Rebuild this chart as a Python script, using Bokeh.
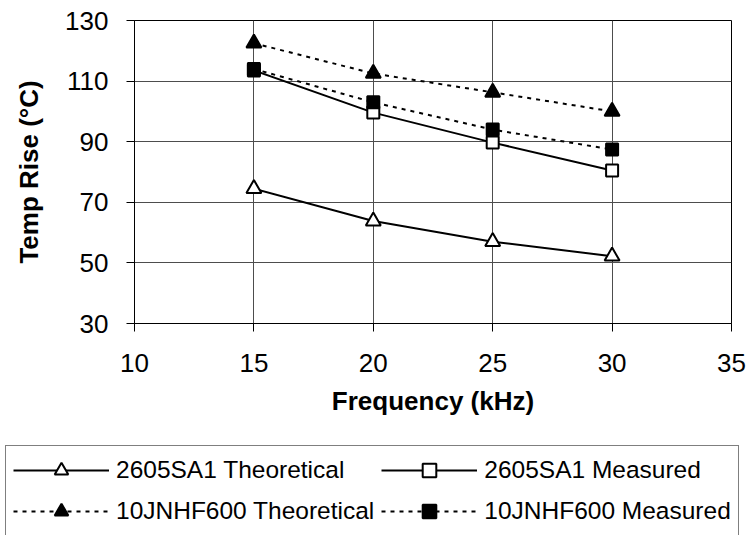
from bokeh.plotting import figure
from bokeh.models import Legend, LegendItem, FixedTicker, Range1d
from bokeh.embed import file_html
from bokeh.resources import INLINE

# ---- data ----
freq = [15, 20, 25, 30]
sa1_theoretical = [74.5, 63.8, 57.0, 52.2]
sa1_measured = [113.5, 99.6, 89.7, 80.5]
jnhf_theoretical = [122.5, 112.5, 106.3, 100.0]
jnhf_measured = [114.0, 103.0, 94.0, 87.4]

x_ticks = [10, 15, 20, 25, 30, 35]
y_ticks = [30, 50, 70, 90, 110, 130]
series_names = ["2605SA1 Theoretical", "2605SA1 Measured",
                "10JNHF600 Theoretical", "10JNHF600 Measured"]
x_title = "Frequency (kHz)"
y_title = "Temp Rise (°C)"

FONT = "Liberation Sans"

p = figure(width=748, height=441, output_backend="svg", toolbar_location=None,
           x_range=Range1d(10, 35), y_range=Range1d(30, 130),
           min_border_left=134, min_border_right=17, min_border_top=20,
           min_border_bottom=118)

p.background_fill_color = "white"
p.border_fill_color = "white"
p.outline_line_color = "black"
p.outline_line_width = 1

p.xaxis.ticker = FixedTicker(ticks=x_ticks)
p.yaxis.ticker = FixedTicker(ticks=y_ticks)
p.xgrid.ticker = FixedTicker(ticks=x_ticks)
p.ygrid.ticker = FixedTicker(ticks=y_ticks)
for g in (p.xgrid, p.ygrid):
    g.grid_line_color = "#4d4d4d"
    g.grid_line_width = 1

for ax in (p.xaxis[0], p.yaxis[0]):
    ax.axis_line_color = "black"
    ax.axis_line_width = 1
    ax.major_tick_line_color = "black"
    ax.major_tick_in = 0
    ax.major_tick_out = 8
    ax.minor_tick_in = 0
    ax.minor_tick_out = 0
    ax.major_label_text_font = FONT
    ax.major_label_text_font_size = "26px"
    ax.major_label_text_color = "black"
    ax.axis_label_text_font = FONT
    ax.axis_label_text_font_size = "26px"
    ax.axis_label_text_font_style = "bold"
    ax.axis_label_text_color = "black"

p.xaxis.axis_label = x_title
p.yaxis.axis_label = y_title
p.xaxis.major_label_standoff = 22
p.yaxis.major_label_standoff = 18
p.xaxis.axis_label_standoff = 11
p.yaxis.axis_label_standoff = 18

series = [
    (sa1_theoretical, "triangle", "white", "solid"),
    (sa1_measured, "square", "white", "solid"),
    (jnhf_theoretical, "triangle", "black", "4 5"),
    (jnhf_measured, "square", "black", "4 5"),
]

def add_series(fig, vals, marker, fill, dash):
    lr = fig.line(freq, vals, line_color="black", line_width=2, line_dash=dash)
    size = 15 if marker == "triangle" else 12
    sr = fig.scatter(freq, vals, marker=marker, size=size, fill_color=fill,
                     line_color="black", line_width=2)
    return lr, sr

for vals, marker, fill, dash in series:
    add_series(p, vals, marker, fill, dash)

# ---- legend panel below the chart (its sample glyphs lie outside its view) ----
lg = figure(width=748, height=94, output_backend="svg", toolbar_location=None,
            x_range=Range1d(100, 101), y_range=Range1d(1000, 1001),
            x_axis_location=None, y_axis_location=None,
            min_border=0, min_border_left=0, min_border_right=0,
            min_border_top=0, min_border_bottom=0)
lg.grid.visible = False
lg.outline_line_color = None
lg.background_fill_color = "white"
lg.border_fill_color = "white"

items = []
for name, (vals, marker, fill, dash) in zip(series_names, series):
    lr, sr = add_series(lg, vals, marker, fill, dash)
    items.append(LegendItem(label=name, renderers=[lr, sr]))

legend = Legend(items=items, location=(5, -1), orientation="horizontal", ncols=2,
                border_line_color="black", border_line_width=1,
                background_fill_color="white", background_fill_alpha=1,
                label_text_font=FONT, label_text_font_size="24.5px",
                label_text_color="black",
                glyph_width=96, glyph_height=34, label_standoff=7,
                padding=7, spacing=7, margin=0)
lg.add_layout(legend)

open("out.html", "w").write(file_html([p, lg], INLINE))
